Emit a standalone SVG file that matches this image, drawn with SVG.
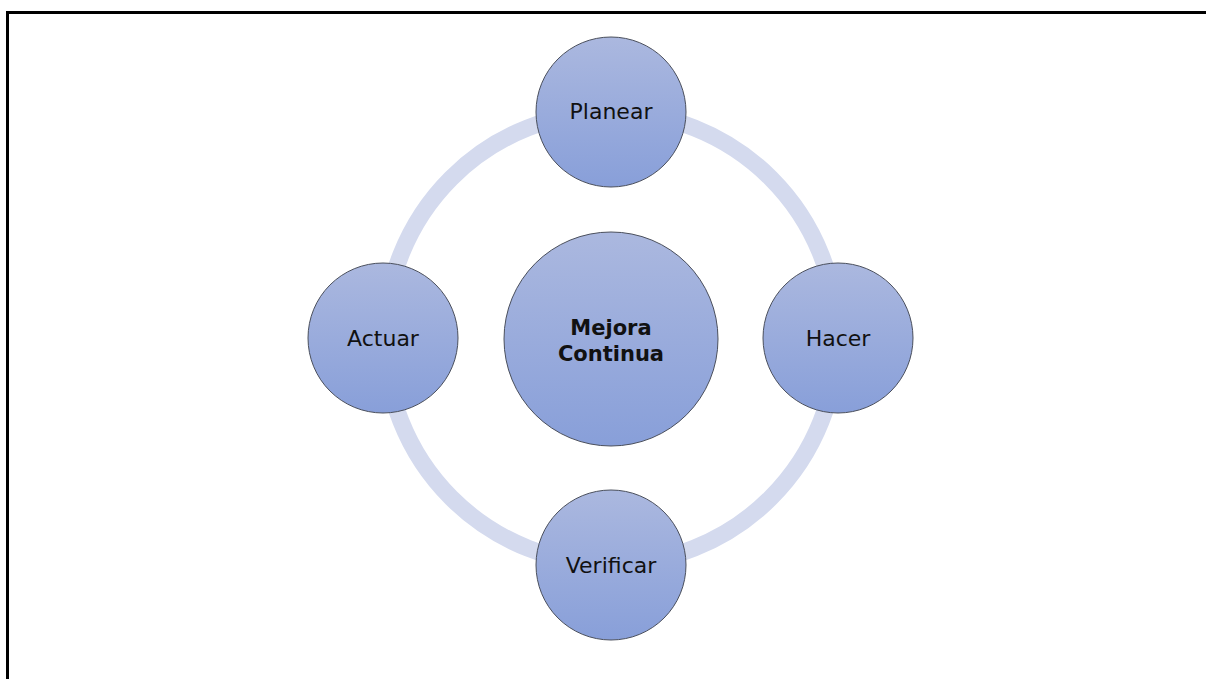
<svg xmlns="http://www.w3.org/2000/svg" width="1206" height="679" viewBox="0 0 1206 679">
<defs>
<linearGradient id="g" x1="0" y1="0" x2="0" y2="1">
<stop offset="0" stop-color="#abb8df"/>
<stop offset="1" stop-color="#889fd9"/>
</linearGradient>
<style>
.n{fill:url(#g);stroke:#4a4f5c;stroke-width:1}
.t{font-family:"DejaVu Sans","Liberation Sans",sans-serif;font-size:22px;fill:#111;text-anchor:middle}
.b{font-weight:bold;font-size:21px}
</style>
</defs>
<rect width="1206" height="679" fill="#fff"/>
<path d="M7.5 679 V12.5 H1206" fill="none" stroke="#000" stroke-width="3"/>
<g id="connectors">
<circle cx="611" cy="338" r="226" fill="none" stroke="#d4daee" stroke-width="17"/>
</g>
<g id="center">
<circle class="n" cx="611" cy="339" r="107"/>
<text class="t b" x="611" y="335">Mejora</text>
<text class="t b" x="611" y="361">Continua</text>
</g>
<g id="planear">
<circle class="n" cx="611" cy="112" r="75"/>
<text class="t" x="611" y="119">Planear</text>
</g>
<g id="hacer">
<circle class="n" cx="838" cy="338" r="75"/>
<text class="t" x="838" y="346">Hacer</text>
</g>
<g id="verificar">
<circle class="n" cx="611" cy="565" r="75"/>
<text class="t" x="611" y="573">Verificar</text>
</g>
<g id="actuar">
<circle class="n" cx="383" cy="338" r="75"/>
<text class="t" x="383" y="346">Actuar</text>
</g>
</svg>
